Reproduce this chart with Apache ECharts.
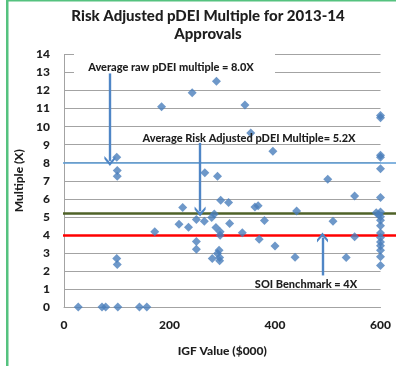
<!DOCTYPE html>
<html>
<head>
<meta charset="utf-8">
<script src="https://cdn.jsdelivr.net/npm/echarts@6/dist/echarts.min.js"></script>
<style>
  html, body { margin: 0; padding: 0; background: #ffffff; }
  #chart { width: 396px; height: 366px; }
</style>
</head>
<body>
<div id="chart"></div>
<script>
// IGF value ($000) and risk adjusted pDEI multiple for each 2013-14 approval
const igfValue = [
  27, 72, 79, 102, 143, 157,
  100, 101, 101, 100, 101,
  172, 185, 218, 225, 236, 243, 251, 251, 251, 266, 267, 280, 281, 285, 288,
  289, 291, 291, 294, 295, 295, 296, 296, 297, 312, 314, 338, 343, 354, 362,
  368, 370, 380, 396, 400, 438, 441, 500, 510, 535, 551, 551,
  600, 600, 600, 600, 600, 600, 592, 597, 600, 600, 600, 600, 600, 600, 600,
  600, 600, 600, 600
];
const multiple = [
  0, 0, 0, 0, 0, 0,
  8.3, 7.57, 7.25, 2.69, 2.35,
  4.17, 11.1, 4.59, 5.52, 4.42, 11.88, 4.85, 3.63, 3.2, 4.76, 7.45, 4.96, 2.69, 5.15, 4.41,
  12.52, 7.25, 2.97, 3.15, 2.75, 2.56, 4.17, 3.98, 5.92, 5.79, 4.63, 4.12, 11.2, 9.65, 5.55,
  5.61, 3.76, 4.8, 8.63, 3.38, 2.76, 5.32, 7.08, 4.76, 2.75, 6.16, 3.89,
  10.5, 10.62, 8.42, 8.3, 7.66, 6.07, 5.22, 5.12, 5.27, 5.0, 4.81, 4.5, 4.1, 3.85, 3.6,
  3.4, 3.15, 2.78, 2.3, 2.1
];

// Reference multiples
const avgRawMultiple = 8.0;
const avgRiskAdjustedMultiple = 5.2;
const soiBenchmark = 4;

// Axis ranges and ticks
const xTicks = [0, 200, 400, 600];
const yTicks = [0, 1, 2, 3, 4, 5, 6, 7, 8, 9, 10, 11, 12, 13, 14];

// Callout arrows: [x, yStart, yEnd]
const rawArrow = [87, 12.95, 8.1];
const riskArrow = [258, 9.1, 5.3];
const soiArrow = [490, 1.75, 3.85];

const FONT = 'Lato, "Open Sans", sans-serif';
const TEXT = '#1e1e1e';
const GRID = '#a3a3a3';
const POINT = '#4A7EBB';
const ARROW = '#4f86c6';
const chevron = 'path://M5,0 L10,6.5 L10,9.5 L5,3.5 L0,9.5 L0,6.5 Z';

const points = igfValue.map((x, i) => [x, multiple[i]]);

function arrow(a) {
  return [
    { coord: [a[0], a[1]], symbol: 'none' },
    { coord: [a[0], a[2]], symbol: chevron, symbolSize: [11, 10] }
  ];
}

const chart = echarts.init(document.getElementById('chart'), null, { renderer: 'canvas' });

chart.setOption({
  animation: false,
  backgroundColor: '#ffffff',
  grid: [
    { left: 64, right: 15.5, top: 54.5, bottom: 59 },
    { left: 63, right: 0, top: 54.5, bottom: 59 }
  ],
  xAxis: [
    {
      gridIndex: 0,
      type: 'value',
      min: xTicks[0],
      max: xTicks[xTicks.length - 1],
      interval: 200,
      name: 'IGF Value ($000)',
      nameLocation: 'middle',
      nameGap: 38,
      nameTextStyle: { fontFamily: FONT, fontSize: 12, fontWeight: 900, color: TEXT },
      axisLine: { show: true, lineStyle: { color: GRID, width: 1 } },
      axisTick: { show: false },
      splitLine: { show: false },
      axisLabel: { fontFamily: FONT, fontSize: 12, fontWeight: 900, color: TEXT, margin: 12 }
    },
    { gridIndex: 1, type: 'value', min: 0, max: 1, show: false }
  ],
  yAxis: [
    {
      gridIndex: 0,
      type: 'value',
      min: yTicks[0],
      max: yTicks[yTicks.length - 1],
      interval: 1,
      name: 'Multiple (X)',
      nameLocation: 'middle',
      nameGap: 36,
      nameRotate: 90,
      nameTextStyle: { fontFamily: FONT, fontSize: 12, fontWeight: 900, color: TEXT },
      axisLine: { show: true, lineStyle: { color: GRID, width: 1 } },
      axisTick: { show: false },
      splitLine: { show: true, lineStyle: { color: GRID, width: 1 } },
      axisLabel: { fontFamily: FONT, fontSize: 12, fontWeight: 900, color: TEXT, margin: 14 }
    },
    { gridIndex: 1, type: 'value', min: 0, max: 14, show: false }
  ],
  series: [
    {
      // Reference lines across the full width
      type: 'line',
      xAxisIndex: 1,
      yAxisIndex: 1,
      data: [],
      silent: true,
      z: 3,
      markLine: {
        silent: true,
        symbol: 'none',
        label: { show: false },
        data: [
          { yAxis: avgRawMultiple, lineStyle: { color: '#5b9bd5', width: 1.6, type: 'solid' } },
          { yAxis: avgRiskAdjustedMultiple, lineStyle: { color: '#4f6228', width: 2.6, type: 'solid' } },
          { yAxis: soiBenchmark, lineStyle: { color: '#ff0000', width: 2.6, type: 'solid' } }
        ]
      }
    },
    {
      type: 'scatter',
      xAxisIndex: 0,
      yAxisIndex: 0,
      data: points,
      symbol: 'diamond',
      symbolSize: 9,
      itemStyle: { color: POINT },
      z: 5,
      markLine: {
        silent: true,
        z: 6,
        label: { show: false },
        lineStyle: { color: ARROW, width: 2.4, type: 'solid' },
        data: [arrow(rawArrow), arrow(riskArrow), arrow(soiArrow)]
      }
    }
  ],
  graphic: [
    // frame edges
    { type: 'rect', shape: { x: 6, y: 0, width: 2.5, height: 366 }, style: { fill: '#55c27f' }, z: 10 },
    { type: 'rect', shape: { x: 6, y: 0, width: 390, height: 1.5 }, style: { fill: '#55c27f' }, z: 10 },
    // title
    {
      type: 'text', x: 208, y: 7, z: 10,
      style: {
        text: 'Risk Adjusted pDEI Multiple for 2013-14\nApprovals',
        font: '900 15px ' + FONT, fill: TEXT, align: 'center', lineHeight: 18
      }
    },
    // callout boxes
    { type: 'rect', shape: { x: 74, y: 51, width: 201, height: 25 }, style: { fill: '#ffffff' }, z: 4 },
    {
      type: 'text', x: 171, y: 67, z: 7,
      style: { text: 'Average raw pDEI multiple = 8.0X', font: '900 11px ' + FONT, fill: TEXT, align: 'center', verticalAlign: 'middle' }
    },
    {
      type: 'text', x: 249, y: 138, z: 7,
      style: { text: 'Average Risk Adjusted pDEI Multiple= 5.2X', font: '900 11px ' + FONT, fill: TEXT, align: 'center', verticalAlign: 'middle' }
    },
    {
      type: 'text', x: 306, y: 284, z: 7,
      style: { text: 'SOI Benchmark = 4X', font: '900 11px ' + FONT, fill: TEXT, align: 'center', verticalAlign: 'middle' }
    }
  ]
});
</script>
</body>
</html>
